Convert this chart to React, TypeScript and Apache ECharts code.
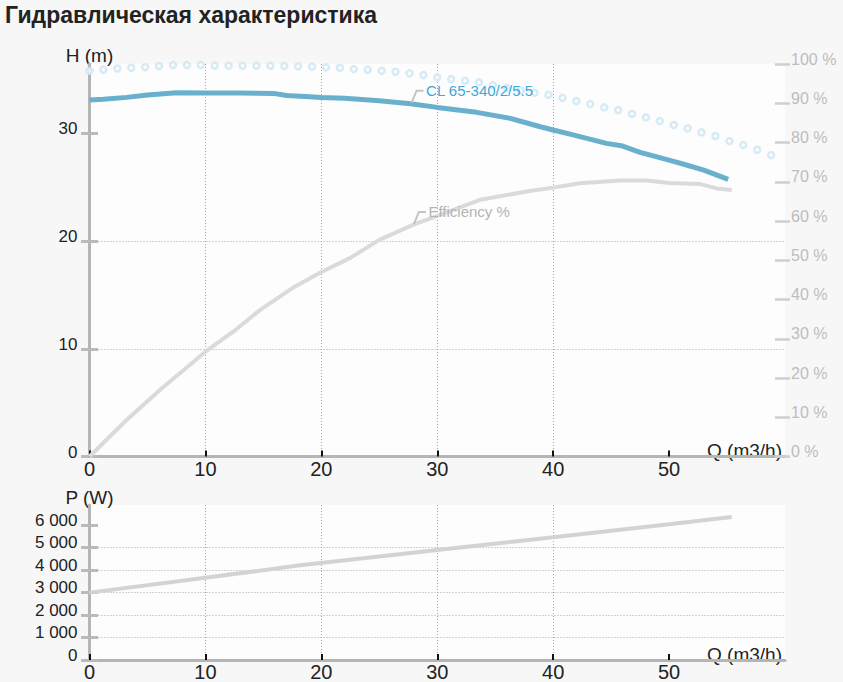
import React, { useEffect, useRef } from "react";
import * as echarts from "echarts";

const TITLE = "Гидравлическая характеристика";
const FONT = '"Liberation Sans", Arial, sans-serif';

const Q_TICKS = [0, 10, 20, 30, 40, 50];
const H_TICKS = [0, 10, 20, 30];
const PCT_TICKS = [0, 10, 20, 30, 40, 50, 60, 70, 80, 90, 100];
const P_TICKS = [0, 1000, 2000, 3000, 4000, 5000, 6000];

const HEAD_NAME = "CL 65-340/2/5.5";
const EFF_NAME = "Efficiency %";

// Pump head curve (H, m)
const HEAD_Q = [0, 1.2, 3.2, 5, 7.5, 10, 13, 16, 17, 19, 20, 22, 25, 27.7, 30, 33.4, 36.3, 38.9, 40, 41.8, 44.6, 46, 47.5, 50, 51.5, 53, 55.1];
const HEAD_H = [33.1, 33.17, 33.35, 33.57, 33.78, 33.75, 33.75, 33.7, 33.52, 33.41, 33.35, 33.26, 33.04, 32.76, 32.42, 31.96, 31.4, 30.62, 30.32, 29.85, 29.08, 28.83, 28.25, 27.53, 27.07, 26.6, 25.74];

// Efficiency curve (%)
const EFF_Q = [0, 3.2, 6.1, 10, 12.4, 14.7, 17.5, 20, 22.5, 25, 27.9, 30, 33.7, 37.7, 40, 42.3, 45.8, 48.1, 50, 52.7, 54.1, 55.4];
const EFF_PCT = [0, 9.3, 17.0, 26.7, 31.8, 37.3, 42.9, 47.0, 50.6, 55.2, 59.0, 61.3, 65.4, 67.5, 68.5, 69.6, 70.3, 70.3, 69.7, 69.4, 68.3, 67.9];

// Dotted (circle) curve, H (m)
const DOT_Q = [0, 1.2, 2.4, 3.6, 4.8, 6, 7.2, 8.4, 9.6, 10.8, 12, 13.2, 14.4, 15.6, 16.8, 18, 19.2, 20.4, 21.6, 22.8, 24, 25.2, 26.4, 27.6, 28.8, 30, 31.2, 32.4, 33.6, 34.8, 36, 37.2, 38.4, 39.6, 40.8, 42, 43.2, 44.4, 45.6, 46.8, 48, 49.2, 50.4, 51.6, 52.8, 54, 55.2, 56.4, 57.6, 58.8];
const DOT_H = [35.81, 35.93, 36.03, 36.1, 36.16, 36.26, 36.35, 36.35, 36.35, 36.3, 36.29, 36.29, 36.29, 36.28, 36.26, 36.24, 36.21, 36.14, 36.1, 35.98, 35.91, 35.82, 35.73, 35.58, 35.42, 35.21, 35.05, 34.89, 34.74, 34.47, 34.23, 34.0, 33.78, 33.59, 33.31, 33.01, 32.73, 32.42, 32.17, 31.83, 31.49, 31.15, 30.78, 30.47, 30.1, 29.76, 29.29, 28.92, 28.49, 27.99];

// Power curve (W)
const POWER_Q = [0, 10, 18, 30, 40.6, 50.2, 55.4];
const POWER_W = [2990, 3650, 4190, 4880, 5480, 6040, 6350];

const HEAD_LABEL_INDEX = 13;
const EFF_LABEL_INDEX = 10;

const zip = (a: number[], b: number[]) => a.map((v, i) => [v, b[i]]);

const fmtThousands = (v: number) => String(v).replace(/\B(?=(\d{3})+(?!\d))/g, " ");

const gridLine = { show: true, showMinLine: false, showMaxLine: false, lineStyle: { color: "#a8a8a8", width: 1, type: [1, 2] } };

function xAxisDef(gridIndex: number) {
  return {
    gridIndex,
    type: "value",
    min: 0,
    max: 60,
    interval: 10,
    axisLine: { show: true, onZero: false, lineStyle: { color: "#b5b5b5", width: 3 } },
    axisTick: { show: true, inside: true, length: 6, customValues: Q_TICKS, lineStyle: { color: "#111", width: 2 } },
    axisLabel: { customValues: Q_TICKS, color: "#222", fontSize: 20, margin: 2, fontFamily: FONT },
    splitLine: gridLine,
    name: "Q (m3/h)",
    nameLocation: "end",
    nameGap: -3,
    nameTextStyle: { align: "right", verticalAlign: "bottom", lineHeight: 12, fontSize: 19, color: "#222", fontFamily: FONT },
  };
}

function leftAxisDef(gridIndex: number, max: number, interval: number, ticks: number[], name: string, nameGap: number, fmt?: (v: number) => string) {
  return {
    gridIndex,
    type: "value",
    position: "left",
    min: 0,
    max,
    interval,
    axisLine: { show: true, onZero: false, lineStyle: { color: "#b5b5b5", width: 3 } },
    axisTick: { show: true, length: 8.5, customValues: ticks, lineStyle: { color: "#bababa", width: 3 } },
    axisLabel: { customValues: ticks, color: "#222", fontSize: 17, margin: 12, verticalAlign: "bottom", lineHeight: 9, fontFamily: FONT, formatter: fmt },
    splitLine: gridLine,
    name,
    nameLocation: "end",
    nameGap,
    nameTextStyle: { fontSize: 19, color: "#222", fontFamily: FONT },
  };
}

function innerTickAxisDef(gridIndex: number, max: number, interval: number, ticks: number[]) {
  return {
    gridIndex,
    type: "value",
    position: "left",
    min: 0,
    max,
    interval,
    axisLine: { show: false },
    axisTick: { show: true, inside: true, length: 8.5, customValues: ticks, lineStyle: { color: "#bababa", width: 3 } },
    axisLabel: { show: false },
    splitLine: { show: false },
  };
}

function labelSeries(yAxisIndex: number, q: number, v: number, text: string, color: string) {
  return {
    type: "custom",
    xAxisIndex: 0,
    yAxisIndex,
    data: [[q, v]],
    z: 10,
    silent: true,
    clip: false,
    renderItem: (_params: any, api: any) => {
      const p = api.coord([api.value(0), api.value(1)]);
      return {
        type: "group",
        children: [
          {
            type: "polyline",
            shape: { points: [[p[0] + 1, p[1] - 1], [p[0] + 6, p[1] - 13], [p[0] + 13, p[1] - 13]] },
            style: { stroke: "#c4c4c4", lineWidth: 2, fill: null },
          },
          {
            type: "text",
            x: p[0] + 15.5,
            y: p[1] - 13.5,
            style: { text, fill: color, fontSize: 15, fontFamily: FONT, align: "left", verticalAlign: "middle" },
          },
        ],
      };
    },
  };
}

export default function App() {
  const ref = useRef<HTMLDivElement>(null);

  useEffect(() => {
    if (!ref.current) return;
    const chart = echarts.init(ref.current, undefined, { renderer: "svg" });
    const option: any = {
      animation: false,
      backgroundColor: "#f7f7f7",
      textStyle: { fontFamily: FONT },
      title: {
        text: TITLE,
        left: 5,
        top: 3,
        padding: 0,
        textStyle: { fontSize: 23, fontWeight: "bold", color: "#222", fontFamily: FONT },
      },
      grid: [
        { left: 89.5, top: 64, width: 695.5, height: 392.5, show: true, backgroundColor: "#fdfdfd", borderWidth: 0 },
        { left: 89.5, top: 505, width: 695.5, height: 156, show: true, backgroundColor: "#fdfdfd", borderWidth: 0 },
      ],
      xAxis: [xAxisDef(0), xAxisDef(1)],
      yAxis: [
        leftAxisDef(0, 36.45, 10, H_TICKS, "H (m)", -1),
        innerTickAxisDef(0, 36.45, 10, H_TICKS),
        {
          gridIndex: 0,
          type: "value",
          position: "right",
          min: 0,
          max: 100,
          interval: 10,
          offset: -10,
          axisLine: { show: false },
          axisTick: { show: true, length: 15, customValues: PCT_TICKS, lineStyle: { color: "#cfcfcf", width: 2.5 } },
          axisLabel: { customValues: PCT_TICKS, formatter: "{value} %", color: "#bdbdbd", fontSize: 16, margin: 16, verticalAlign: "bottom", lineHeight: 10, fontFamily: FONT },
          splitLine: { show: false },
        },
        leftAxisDef(1, 6880, 1000, P_TICKS, "P (W)", -2, fmtThousands),
        innerTickAxisDef(1, 6880, 1000, P_TICKS),
      ],
      series: [
        {
          type: "scatter",
          name: "dots",
          xAxisIndex: 0,
          yAxisIndex: 0,
          data: zip(DOT_Q, DOT_H),
          symbol: "circle",
          symbolSize: 6,
          clip: false,
          z: 1,
          itemStyle: { color: "#fdfdfd", borderColor: "#cce6f3", borderWidth: 2.5 },
        },
        {
          type: "line",
          name: EFF_NAME,
          xAxisIndex: 0,
          yAxisIndex: 2,
          data: zip(EFF_Q, EFF_PCT),
          showSymbol: false,
          symbol: "none",
          z: 2,
          lineStyle: { color: "#dadada", width: 4 },
        },
        {
          type: "line",
          name: HEAD_NAME,
          xAxisIndex: 0,
          yAxisIndex: 0,
          data: zip(HEAD_Q, HEAD_H),
          showSymbol: false,
          symbol: "none",
          z: 3,
          lineStyle: { color: "#68b0cb", width: 5 },
        },
        labelSeries(0, HEAD_Q[HEAD_LABEL_INDEX], HEAD_H[HEAD_LABEL_INDEX], HEAD_NAME, "#3ba7d8"),
        labelSeries(2, EFF_Q[EFF_LABEL_INDEX], EFF_PCT[EFF_LABEL_INDEX], EFF_NAME, "#b4b4b4"),
        {
          type: "line",
          name: "P",
          xAxisIndex: 1,
          yAxisIndex: 3,
          data: zip(POWER_Q, POWER_W),
          showSymbol: false,
          symbol: "none",
          lineStyle: { color: "#d3d3d3", width: 4 },
        },
      ],
    };
    chart.setOption(option);
    return () => chart.dispose();
  }, []);

  return (
    <div
      ref={ref}
      style={{ position: "absolute", left: 0, top: 0, width: 843, height: 682 }}
    />
  );
}
